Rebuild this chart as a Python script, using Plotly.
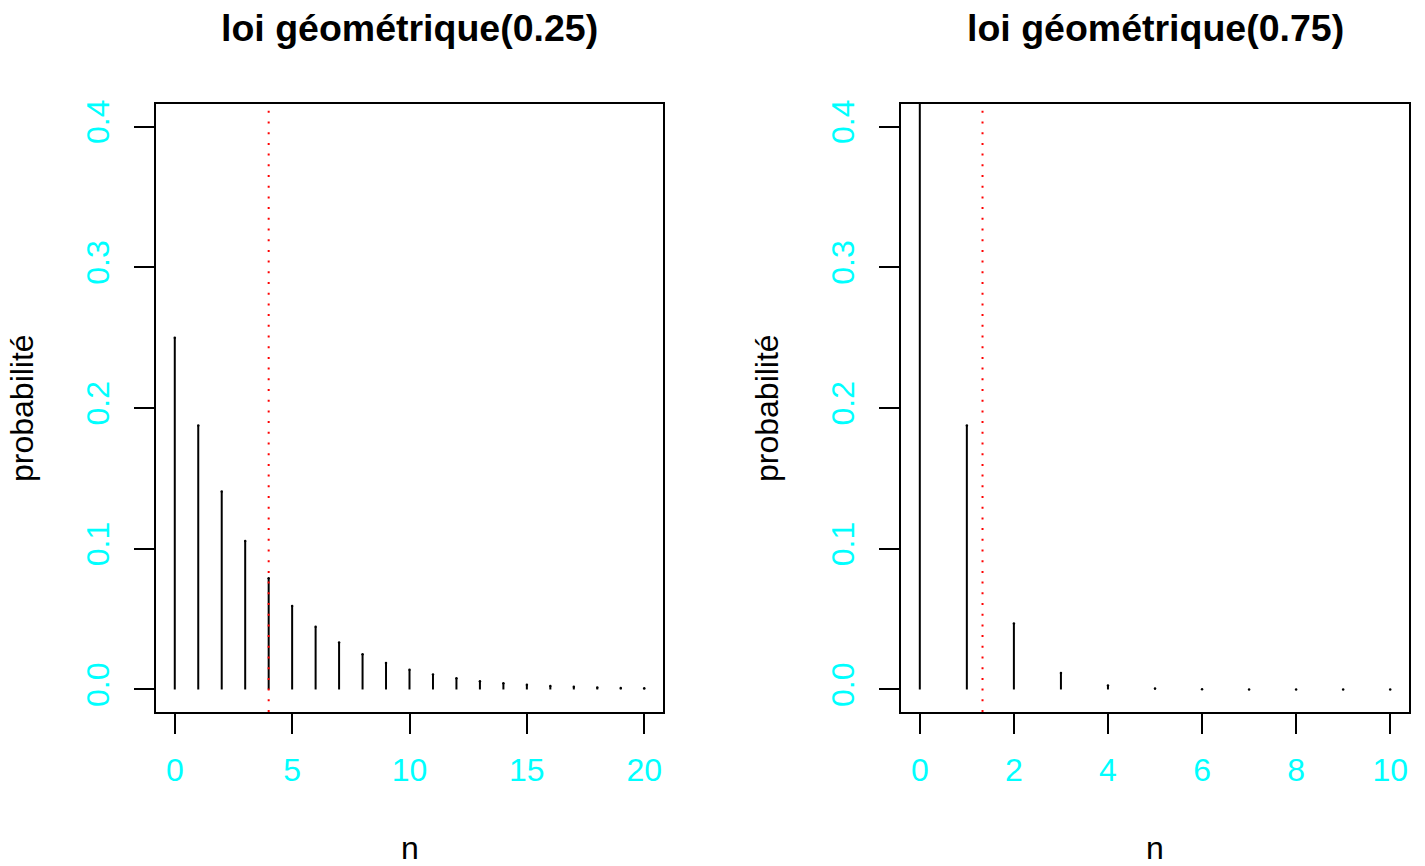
import plotly.graph_objects as go

# ---------------- data ----------------
n_left = list(range(0, 21))
prob_left = [0.25, 0.1875, 0.1406, 0.1055, 0.0791, 0.0593, 0.0445, 0.0334,
             0.0250, 0.0188, 0.0141, 0.0106, 0.0079, 0.0059, 0.0045, 0.0033,
             0.0025, 0.0019, 0.0014, 0.0011, 0.0008]
n_right = list(range(0, 11))
prob_right = [0.75, 0.1875, 0.0469, 0.0117, 0.0029, 0.0007, 0.0002,
              0.00005, 0.00001, 0.000003, 0.0000007]
titles = ["loi géométrique(0.25)", "loi géométrique(0.75)"]
mean_lines = [4.0, 1.333]
x_ticks_left = [0, 5, 10, 15, 20]
x_ticks_right = [0, 2, 4, 6, 8, 10]
y_ticks = [0.0, 0.1, 0.2, 0.3, 0.4]
y_tick_labels = ["0.0", "0.1", "0.2", "0.3", "0.4"]
x_label = "n"
y_label = "probabilité"

# ---------------- layout constants ----------------
W, H = 1425, 866
FONT = "Liberation Sans, Arial, Helvetica, sans-serif"
CYAN = "#00FFFF"
boxes = [(156, 663), (901, 1409)]  # px, left/right of each panel
box_top, box_bottom = 104, 712


def px_x(p):
    return p / W


def px_y(p):
    return 1 - p / H


def stems(xs, ys):
    sx, sy = [], []
    for x, y in zip(xs, ys):
        sx += [x, x, None]
        sy += [0, y, None]
    return sx, sy


fig = go.Figure()

panels = [
    (n_left, prob_left, x_ticks_left, [-0.8, 20.8]),
    (n_right, prob_right, x_ticks_right, [-0.4, 10.4]),
]

for i, (xs, ys, xt, xr) in enumerate(panels):
    xa = "x" if i == 0 else "x2"
    ya = "y" if i == 0 else "y2"
    sx, sy = stems(xs, ys)
    fig.add_trace(go.Scatter(x=sx, y=sy, mode="lines", xaxis=xa, yaxis=ya,
                             line=dict(color="black", width=2),
                             showlegend=False, hoverinfo="skip"))
    fig.add_trace(go.Scatter(x=xs, y=ys, mode="markers", xaxis=xa, yaxis=ya,
                             marker=dict(color="black", size=2.5),
                             showlegend=False, hoverinfo="skip"))
    l, r = boxes[i]
    axis_common = dict(showgrid=False, zeroline=False, showline=True,
                       mirror=True, linecolor="black", linewidth=2,
                       ticks="outside", ticklen=20, tickwidth=2,
                       tickcolor="black",
                       tickfont=dict(family=FONT, size=32, color=CYAN))
    xkey = "xaxis" if i == 0 else "xaxis2"
    ykey = "yaxis" if i == 0 else "yaxis2"
    fig.update_layout(**{
        xkey: dict(domain=[px_x(l), px_x(r)], range=xr, tickvals=xt,
                   anchor=ya, ticklabelstandoff=9, **axis_common),
        ykey: dict(domain=[px_y(box_bottom), px_y(box_top)],
                   range=[-0.016, 0.416], tickvals=y_ticks,
                   ticktext=y_tick_labels, tickangle=-90, anchor=xa,
                   ticklabelstandoff=12, **axis_common),
    })
    # red dotted line
    fig.add_shape(type="line", xref=xa, yref=f"{ya} domain",
                  x0=mean_lines[i], x1=mean_lines[i], y0=0, y1=1,
                  line=dict(color="red", width=2, dash="2px,8.7px"))
    cx = (l + r) / 2
    fig.add_annotation(text=f"<b>{titles[i]}</b>", xref="paper", yref="paper",
                       x=px_x(cx), y=px_y(28), xanchor="center",
                       yanchor="middle", showarrow=False,
                       font=dict(family=FONT, size=37.5, color="black"))
    fig.add_annotation(text=x_label, xref="paper", yref="paper",
                       x=px_x(cx), y=px_y(848), xanchor="center",
                       yanchor="middle", showarrow=False,
                       font=dict(family=FONT, size=32, color="black"))
    fig.add_annotation(text=y_label, xref="paper", yref="paper",
                       x=px_x(l - 134), y=px_y((box_top + box_bottom) / 2),
                       xanchor="center", yanchor="middle", textangle=-90,
                       showarrow=False,
                       font=dict(family=FONT, size=32, color="black"))

fig.update_layout(width=W, height=H, autosize=False,
                  margin=dict(l=0, r=0, t=0, b=0, pad=0),
                  paper_bgcolor="white", plot_bgcolor="white",
                  template="none", showlegend=False)

fig.write_html("out.html", config={"displayModeBar": False},
               post_script="document.body.style.margin='0';document.body.style.overflow='hidden';")
